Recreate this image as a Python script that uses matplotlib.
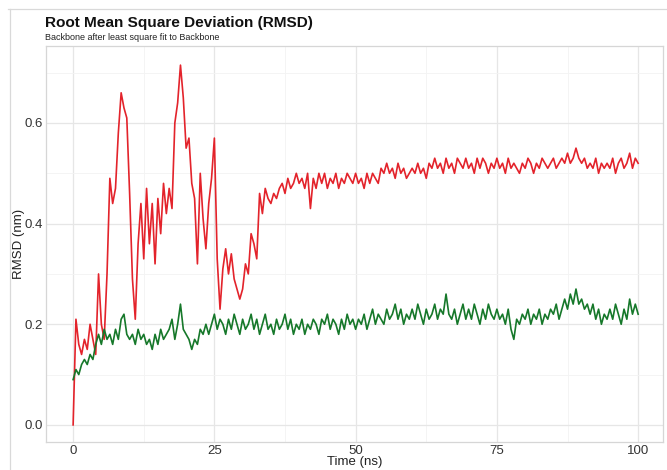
import numpy as np
import matplotlib
matplotlib.use("Agg")
import matplotlib.pyplot as plt
from matplotlib.lines import Line2D

# RMSD per frame, sampled every 0.5 ns (0 -> 100 ns)
time_ns = np.arange(0, 100.5, 0.5)

rmsd_red = [
    0.00, 0.21, 0.16, 0.14, 0.17, 0.15, 0.20, 0.17, 0.14, 0.30,
    0.20, 0.17, 0.30, 0.49, 0.44, 0.47, 0.58, 0.66, 0.63, 0.61,
    0.46, 0.29, 0.21, 0.36, 0.44, 0.33, 0.47, 0.36, 0.44, 0.32,
    0.45, 0.38, 0.48, 0.42, 0.47, 0.43, 0.60, 0.64, 0.715, 0.65,
    0.55, 0.57, 0.48, 0.45, 0.32, 0.50, 0.41, 0.35, 0.44, 0.49,
    0.57, 0.33, 0.23, 0.31, 0.35, 0.30, 0.34, 0.29, 0.27, 0.25,
    0.27, 0.32, 0.30, 0.38, 0.36, 0.33, 0.46, 0.42, 0.47, 0.45,
    0.44, 0.46, 0.45, 0.47, 0.48, 0.46, 0.49, 0.47, 0.48, 0.50,
    0.48, 0.49, 0.47, 0.50, 0.43, 0.49, 0.47, 0.50, 0.48, 0.50,
    0.47, 0.49, 0.48, 0.50, 0.47, 0.49, 0.48, 0.50, 0.49, 0.48,
    0.50, 0.48, 0.49, 0.47, 0.50, 0.48, 0.50, 0.49, 0.48, 0.51,
    0.50, 0.52, 0.50, 0.51, 0.49, 0.52, 0.50, 0.51, 0.49, 0.50,
    0.51, 0.50, 0.52, 0.50, 0.51, 0.49, 0.52, 0.51, 0.53, 0.51,
    0.52, 0.50, 0.53, 0.51, 0.52, 0.50, 0.53, 0.52, 0.51, 0.53,
    0.51, 0.52, 0.50, 0.53, 0.51, 0.53, 0.52, 0.50, 0.52, 0.51,
    0.53, 0.51, 0.52, 0.50, 0.53, 0.51, 0.52, 0.51, 0.50, 0.52,
    0.51, 0.53, 0.52, 0.50, 0.52, 0.51, 0.53, 0.52, 0.51, 0.52,
    0.53, 0.51, 0.52, 0.53, 0.52, 0.54, 0.52, 0.53, 0.55, 0.53,
    0.52, 0.53, 0.51, 0.52, 0.51, 0.53, 0.50, 0.52, 0.51, 0.52,
    0.51, 0.53, 0.50, 0.52, 0.53, 0.51, 0.52, 0.54, 0.51, 0.53,
    0.52,
]

rmsd_green = [
    0.09, 0.11, 0.10, 0.12, 0.13, 0.12, 0.14, 0.13, 0.16, 0.18,
    0.16, 0.19, 0.17, 0.18, 0.16, 0.19, 0.17, 0.21, 0.22, 0.18,
    0.17, 0.18, 0.16, 0.19, 0.17, 0.18, 0.16, 0.17, 0.15, 0.18,
    0.16, 0.19, 0.17, 0.18, 0.19, 0.21, 0.17, 0.20, 0.24, 0.19,
    0.18, 0.17, 0.15, 0.17, 0.16, 0.19, 0.18, 0.20, 0.18, 0.20,
    0.22, 0.19, 0.21, 0.20, 0.18, 0.21, 0.19, 0.22, 0.20, 0.18,
    0.21, 0.19, 0.20, 0.22, 0.19, 0.21, 0.18, 0.20, 0.22, 0.19,
    0.20, 0.18, 0.21, 0.19, 0.20, 0.22, 0.19, 0.21, 0.18, 0.20,
    0.19, 0.21, 0.18, 0.20, 0.19, 0.21, 0.20, 0.18, 0.21, 0.20,
    0.22, 0.19, 0.21, 0.20, 0.18, 0.21, 0.19, 0.22, 0.20, 0.21,
    0.19, 0.21, 0.20, 0.22, 0.19, 0.21, 0.23, 0.20, 0.22, 0.21,
    0.20, 0.23, 0.21, 0.22, 0.24, 0.21, 0.23, 0.20, 0.22, 0.21,
    0.23, 0.21, 0.24, 0.22, 0.20, 0.23, 0.21, 0.22, 0.24, 0.21,
    0.23, 0.22, 0.26, 0.22, 0.21, 0.23, 0.20, 0.22, 0.24, 0.21,
    0.23, 0.21, 0.24, 0.22, 0.20, 0.23, 0.21, 0.24, 0.22, 0.21,
    0.23, 0.21, 0.22, 0.20, 0.23, 0.19, 0.17, 0.21, 0.20, 0.22,
    0.21, 0.23, 0.20, 0.22, 0.21, 0.23, 0.20, 0.22, 0.21, 0.23,
    0.22, 0.24, 0.21, 0.23, 0.25, 0.23, 0.26, 0.24, 0.27, 0.24,
    0.25, 0.23, 0.24, 0.22, 0.24, 0.21, 0.23, 0.20, 0.22, 0.21,
    0.23, 0.21, 0.24, 0.22, 0.20, 0.23, 0.21, 0.25, 0.22, 0.24,
    0.22,
]

x_ticks = [0, 25, 50, 75, 100]
y_ticks = [0.0, 0.2, 0.4, 0.6]

plt.rcParams['font.family'] = ['Liberation Sans', 'DejaVu Sans']

W, H = 667, 470
fig = plt.figure(figsize=(W / 100, H / 100), dpi=100)
fig.patch.set_facecolor('white')

# panel in pixel coordinates
left, right, top, bottom = 46, 663, 46, 442
ax = fig.add_axes([left / W, 1 - bottom / H, (right - left) / W, (bottom - top) / H])

ax.plot(time_ns, rmsd_red, color='#e3232b', linewidth=1.2, zorder=3)
ax.plot(time_ns, rmsd_green, color='#16782a', linewidth=1.2, zorder=3)

ax.set_xlim(-4.8, 104.4)
ax.set_ylim(-0.034, 0.753)
ax.set_xticks(x_ticks)
ax.set_yticks(y_ticks)
ax.set_yticklabels([f'{v:.1f}' for v in y_ticks])
ax.set_xticks([12.5, 37.5, 62.5, 87.5], minor=True)
ax.set_yticks([0.1, 0.3, 0.5, 0.7], minor=True)

ax.grid(True, which='major', color='#e6e6e6', linewidth=0.9)
ax.grid(True, which='minor', color='#f3f3f3', linewidth=0.6)
ax.set_axisbelow(True)
ax.tick_params(which='both', length=0, labelsize=9.5, colors='#333333')
ax.tick_params(axis='x', pad=2.5)
ax.tick_params(axis='y', pad=2)
for s in ax.spines.values():
    s.set_color('#d6d6d6')
    s.set_linewidth(0.9)

ax.set_xlabel('Time (ns)', fontsize=9.5, color='#222222', labelpad=-1)
ax.set_ylabel('RMSD (nm)', fontsize=9.5, color='#222222', labelpad=0)

fig.text(45 / W, 1 - 23 / H, 'Root Mean Square Deviation (RMSD)',
         fontsize=11.1, fontweight='bold', color='#111111', va='center', ha='left')
fig.text(45 / W, 1 - 37 / H, 'Backbone after least square fit to Backbone',
         fontsize=6.5, color='#222222', va='center', ha='left')

# thin frame on the top and left
fig.add_artist(Line2D([8 / W, 1], [1 - 9 / H, 1 - 9 / H], color='#d9d9d9', linewidth=0.9))
fig.add_artist(Line2D([10 / W, 10 / W], [0, 1 - 9 / H], color='#d9d9d9', linewidth=0.9))

fig.savefig('out.png', dpi=100, facecolor='white')
